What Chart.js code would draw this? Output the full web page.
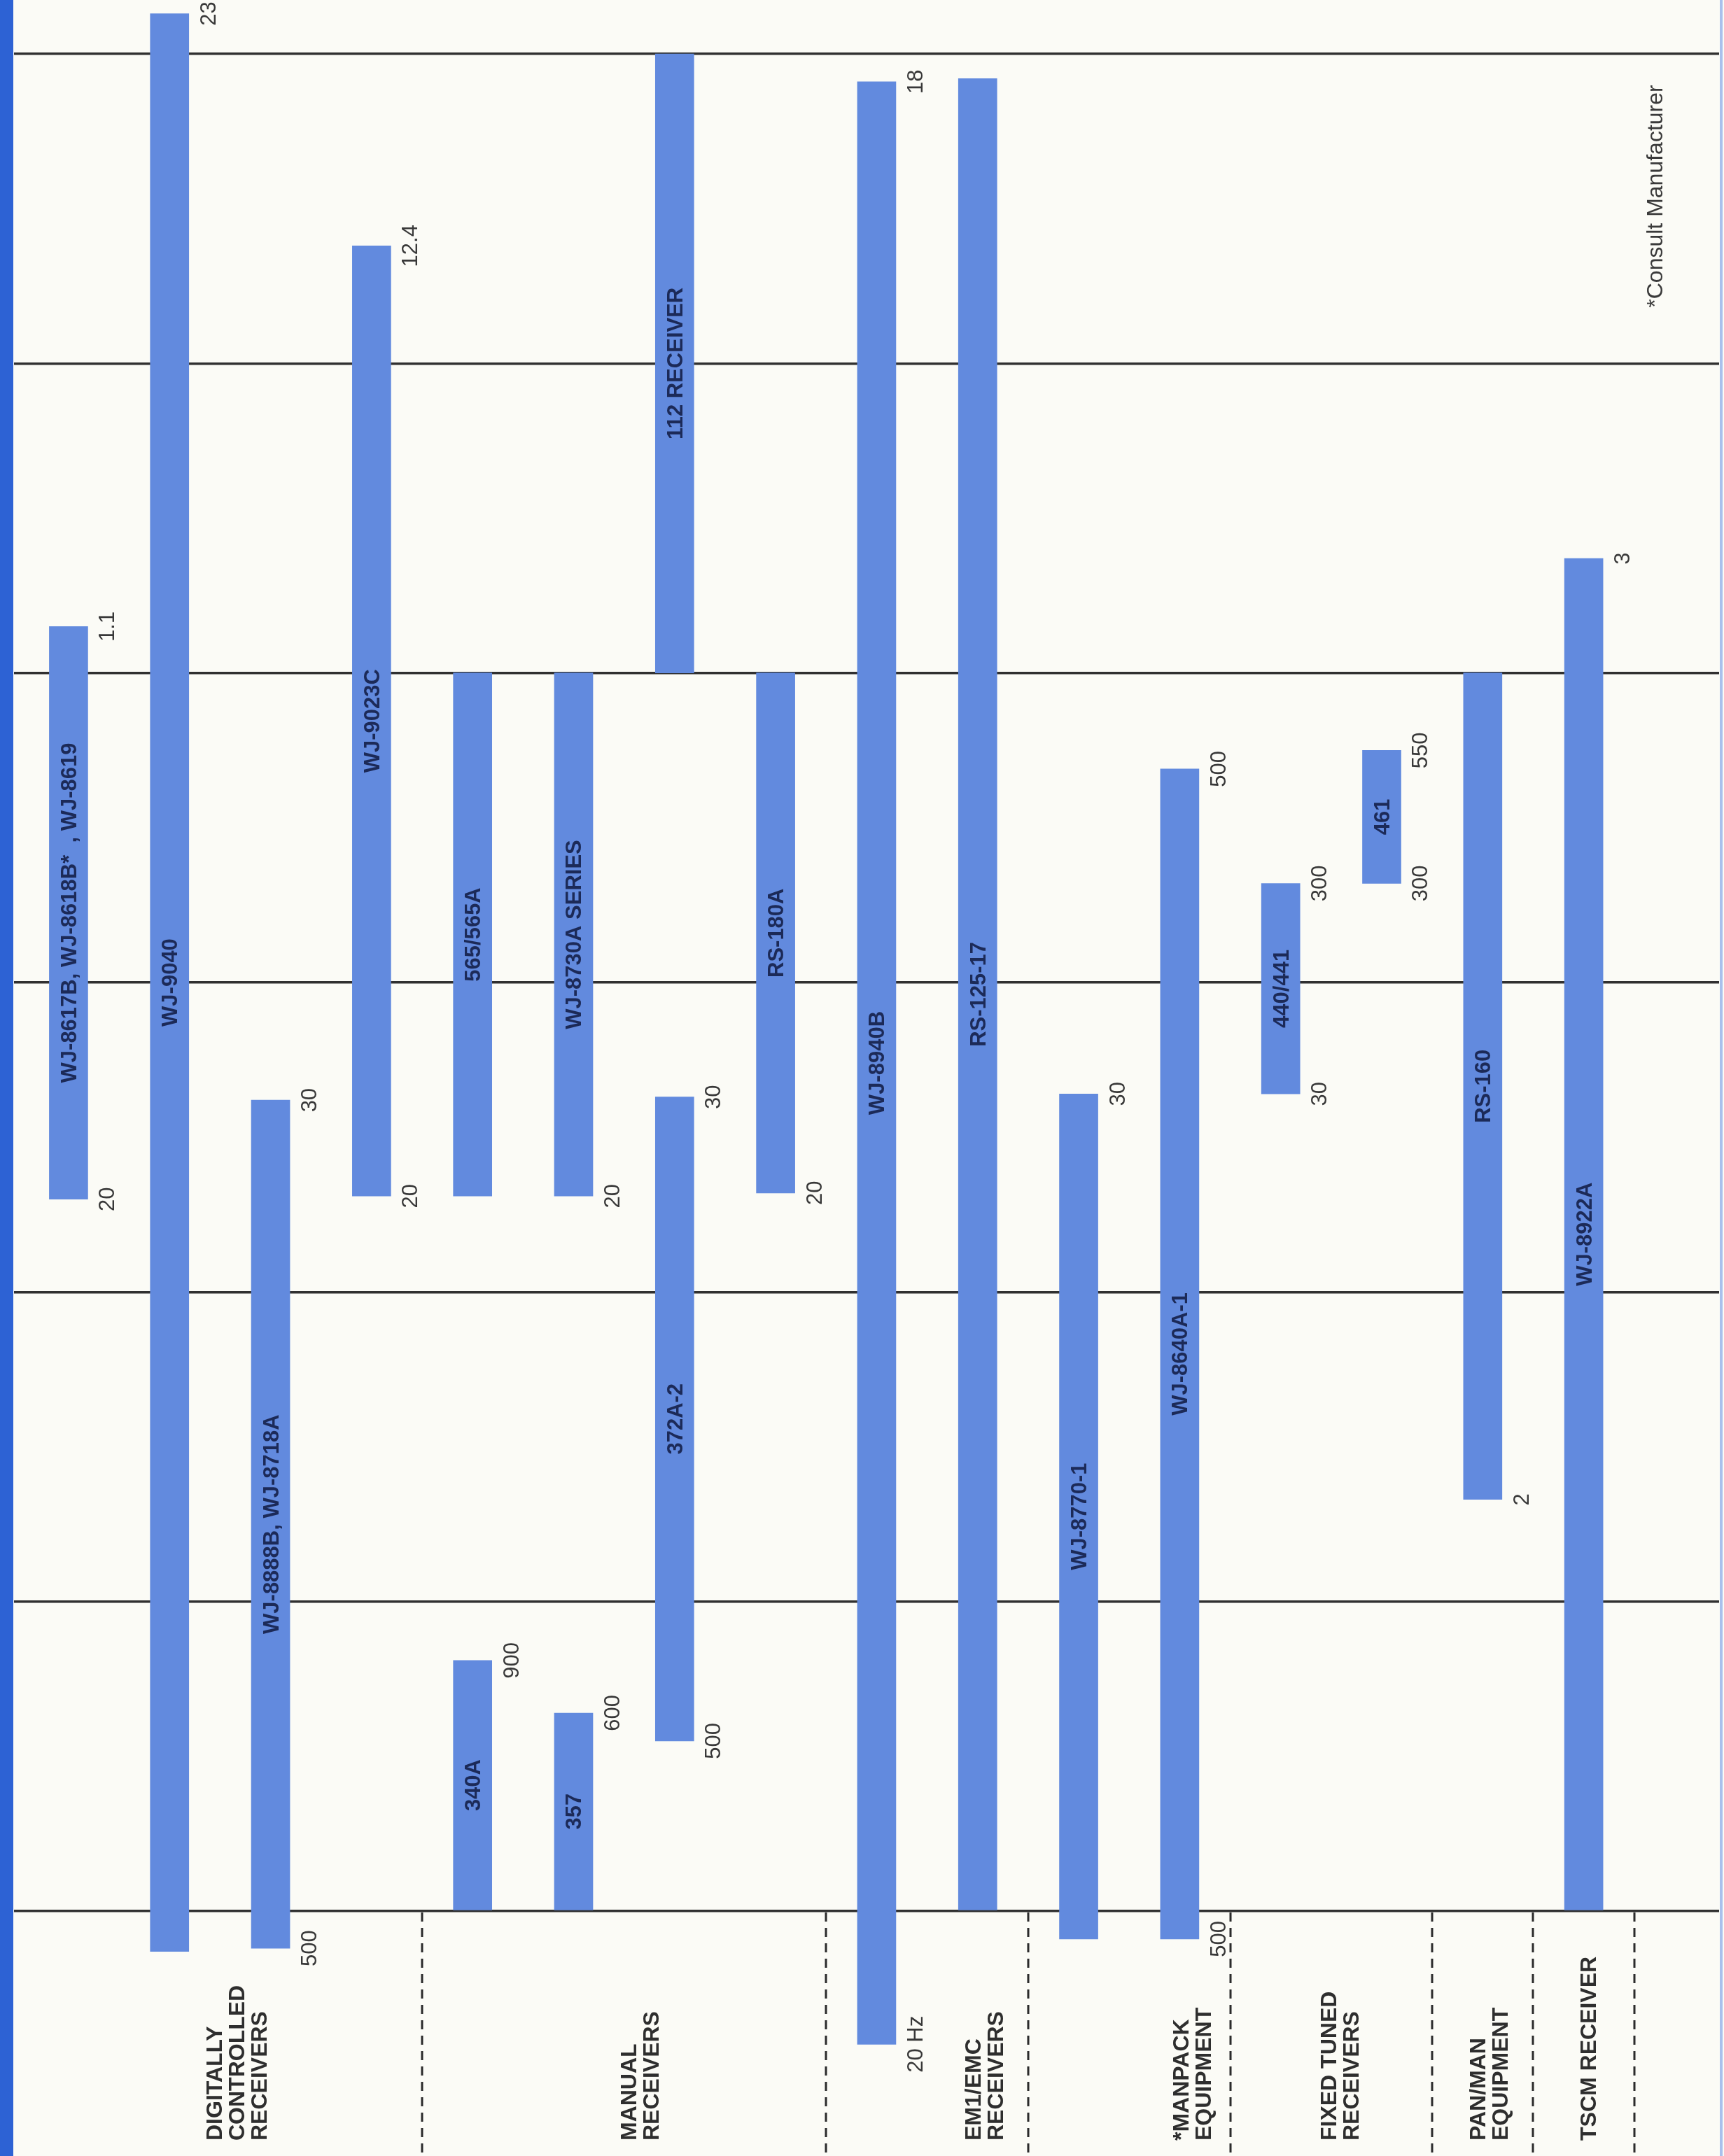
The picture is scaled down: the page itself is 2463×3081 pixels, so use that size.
<!DOCTYPE html>
<html>
<head>
<meta charset="utf-8">
<script src="https://cdn.jsdelivr.net/npm/chart.js@4.4.1/dist/chart.umd.min.js"></script>
<style>
  html, body { margin: 0; padding: 0; background: #fbfbf6; overflow: hidden; }
  canvas { display: block; }
</style>
</head>
<body>
<canvas id="chart" width="2463" height="3081"></canvas>
<script>
// receivers, one bar each
var products = ['WJ-8617B, WJ-8618B*  , WJ-8619', 'WJ-9040', 'WJ-8888B, WJ-8718A', 'WJ-9023C',
  '340A', '565/565A', '357', 'WJ-8730A SERIES', '372A-2', '112 RECEIVER', 'RS-180A',
  'WJ-8940B', 'RS-125-17', 'WJ-8770-1', 'WJ-8640A-1', '440/441', '461', 'RS-160', 'WJ-8922A'];
// column each bar stands in (some columns hold two bars)
var columns = [0, 1, 2, 3, 4, 4, 5, 5, 6, 6, 7, 8, 9, 10, 11, 12, 13, 14, 15];
// band covered, in chart rows (0 = bottom rule, 6 = top rule)
var bandLow  = [2.30, -0.13, -0.12, 2.31, 0, 2.31, 0, 2.31, 0.55, 4, 2.32, -0.43, 0, -0.09, -0.09, 2.64, 3.32, 1.33, 0];
var bandHigh = [4.15, 6.13, 2.62, 5.38, 0.81, 4, 0.64, 4, 2.63, 6, 4, 5.91, 5.92, 2.64, 3.69, 3.32, 3.75, 4, 4.37];
// frequency marks printed at the ends of the bars
var topMarks    = ['1.1', '23', '30', '12.4', '900', '', '600', '', '30', '', '', '18', '', '30', '500', '300', '550', '', '3'];
var bottomMarks = ['20', '', '500', '20', '', '', '', '20', '500', '', '20', '20 Hz', '', '', '500', '30', '300', '2', ''];
// rows of the chart
var gridLevels = [0, 1, 2, 3, 4, 5, 6];
// equipment groups along the bottom
var groupNames = [['DIGITALLY', 'CONTROLLED', 'RECEIVERS'], ['MANUAL', 'RECEIVERS'], ['EM1/EMC', 'RECEIVERS'],
  ['*MANPACK', 'EQUIPMENT'], ['FIXED TUNED', 'RECEIVERS'], ['PAN/MAN', 'EQUIPMENT'], ['TSCM RECEIVER']];
var groupLastColumn = [3, 7, 9, 11, 13, 14, 15];
var footnote = '*Consult Manufacturer';

// layout bits
var groupLabelAt = [1.66, 5.65, 9.06, 11.12, 12.58, 14.06, 15.04];
var noteAt = {x: 15.7, y: 5.18};
var FONT = '"Liberation Sans", Arial, Helvetica, sans-serif';

function rotText(ctx, str, px, py, align) {
  ctx.save();
  ctx.translate(px, py);
  ctx.rotate(-Math.PI / 2);
  ctx.textAlign = align;
  ctx.textBaseline = 'alphabetic';
  ctx.fillText(str, 0, 0);
  ctx.restore();
}

var overlay = {
  id: 'overlay',
  beforeDraw: function (chart) {
    var ctx = chart.ctx;
    ctx.save();
    ctx.fillStyle = '#fbfbf6';
    ctx.fillRect(0, 0, chart.width, chart.height);
    ctx.fillStyle = '#2d62d4';
    ctx.fillRect(0, 0, 19, chart.height);
    ctx.strokeStyle = '#a9c0ec';
    ctx.lineWidth = 4;
    ctx.beginPath();
    ctx.moveTo(chart.width - 4, 0);
    ctx.lineTo(chart.width - 4, chart.height);
    ctx.stroke();
    ctx.restore();
  },
  afterDatasetsDraw: function (chart) {
    var ctx = chart.ctx, x = chart.scales.x, y = chart.scales.y;
    var bars = chart.getDatasetMeta(0).data;
    ctx.save();

    // dashed group dividers under the bottom rule
    var y0 = y.getPixelForValue(0);
    ctx.strokeStyle = '#2b2b2b';
    ctx.lineWidth = 3;
    ctx.setLineDash([13, 9]);
    groupLastColumn.forEach(function (c) {
      var px = Math.round(x.getPixelForValue(c + 0.5));
      ctx.beginPath();
      ctx.moveTo(px, y0 + 2);
      ctx.lineTo(px, chart.height);
      ctx.stroke();
    });
    ctx.setLineDash([]);

    bars.forEach(function (bar, i) {
      var p = bar.getProps(['x', 'y', 'base', 'width'], true);
      var top = Math.min(p.y, p.base), bottom = Math.max(p.y, p.base);
      var right = p.x + p.width / 2;
      // name inside the bar
      ctx.fillStyle = '#1c2a58';
      ctx.font = 'bold 31px ' + FONT;
      rotText(ctx, products[i], p.x + 11, (top + bottom) / 2, 'center');
      // end marks
      ctx.fillStyle = '#383838';
      ctx.font = '31px ' + FONT;
      if (topMarks[i]) rotText(ctx, topMarks[i], right + 38, top, 'center');
      if (bottomMarks[i]) rotText(ctx, bottomMarks[i], right + 38, bottom, 'center');
    });

    // group names
    ctx.fillStyle = '#2e2e2e';
    ctx.font = 'bold 32px ' + FONT;
    groupNames.forEach(function (lines, g) {
      var cx = x.getPixelForValue(groupLabelAt[g]);
      lines.forEach(function (s, k) {
        var lc = cx + (k - (lines.length - 1) / 2) * 32;
        rotText(ctx, s, lc + 11.5, chart.height - 22, 'left');
      });
    });

    // footnote
    ctx.fillStyle = '#3a3a3a';
    ctx.font = '32px ' + FONT;
    rotText(ctx, footnote, x.getPixelForValue(noteAt.x) + 11.5, y.getPixelForValue(noteAt.y), 'left');
    ctx.restore();
  }
};

var ctx = document.getElementById('chart').getContext('2d');
var chart = new Chart(ctx, {
  type: 'bar',
  data: {
    datasets: [{
      data: products.map(function (p, i) { return {x: columns[i], y: [bandLow[i], bandHigh[i]]}; }),
      backgroundColor: '#628ade',
      borderWidth: 0,
      barThickness: 55,
      grouped: false
    }]
  },
  options: {
    responsive: false,
    devicePixelRatio: 1,
    animation: false,
    layout: {padding: {left: 20, right: 7, top: 0, bottom: 0}},
    plugins: {
      legend: {display: false},
      tooltip: {enabled: false}
    },
    scales: {
      x: {
        type: 'linear',
        display: false,
        offset: false,
        min: -0.54,
        max: 16.34
      },
      y: {
        min: -0.791,
        max: 6.174,
        afterBuildTicks: function (s) { s.ticks = gridLevels.map(function (v) { return {value: v}; }); },
        afterFit: function (s) { s.width = 0; },
        ticks: {display: false},
        border: {display: false},
        grid: {
          color: '#303030',
          lineWidth: 3.5,
          drawTicks: false
        }
      }
    }
  },
  plugins: [overlay]
});
</script>
</body>
</html>
